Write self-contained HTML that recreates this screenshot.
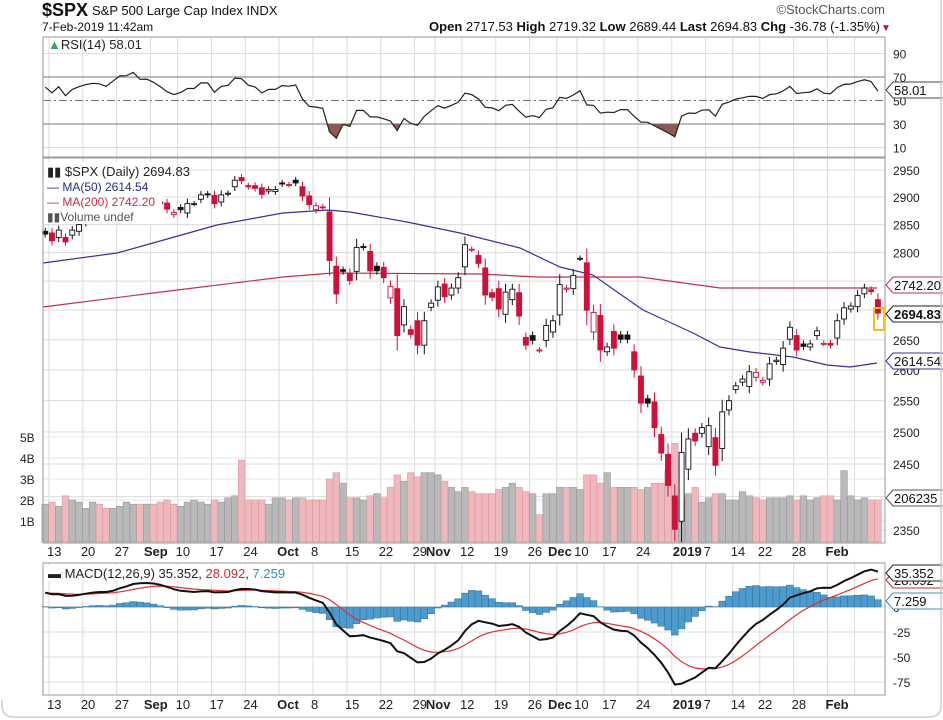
<!DOCTYPE html>
<html><head><meta charset="utf-8"><style>
html,body{margin:0;padding:0;background:#fff;}
svg{display:block;font-family:"Liberation Sans",sans-serif;}
</style></head><body>
<svg id="c" width="943" height="720" viewBox="0 0 943 720" xmlns="http://www.w3.org/2000/svg"></svg>
<script>
const S=document.getElementById('c');let h='';
const oc=[[2838,2833],[2835,2821],[2827,2840],[2827,2819],[2831,2840],[2838,2850],[2853,2858],[2861,2863],[2860,2862],[2860,2857],[2862,2875],[2884,2897],[2901,2898],[2900,2914],[2908,2901],[2898,2902],
[2897,2896],[2891,2888],[2889,2878],[2868,2872],[2881,2877],[2871,2888],[2888,2888],[2896,2904],[2906,2904],[2903,2888],[2891,2904],[2906,2907],[2919,2931],[2936,2930],[2921,2919],[2921,2916],[2917,2905],[2911,2914],[2910,2914],
[2926,2924],[2923,2923],[2931,2926],[2919,2902],[2902,2886],[2877,2884],[2882,2881],[2873,2786],[2776,2728],[2770,2767],[2764,2751],[2767,2809],[2811,2809],[2802,2768],[2776,2768],[2774,2756],[2721,2741],[2737,2657],[2675,2706],[2667,2659],[2682,2641],[2641,2682],[2705,2712],
[2717,2740],[2745,2723],[2726,2738],[2738,2756],[2775,2814],[2806,2806],[2795,2781],[2773,2726],[2730,2722],[2737,2702],[2693,2731],[2718,2736],[2730,2690],[2654,2641],[2657,2649],[2633,2633],[2649,2674],[2663,2682],[2692,2744],[2736,2738],[2737,2760],
[2790,2790],[2782,2700],[2663,2696],[2691,2633],[2630,2638],[2664,2636],[2658,2651],[2658,2651],[2630,2600],[2590,2546],[2553,2546],[2548,2507],[2496,2467],[2465,2417],[2401,2351],[2363,2468],[2442,2489],[2498,2486],[2498,2507],
[2477,2510],[2491,2448],[2474,2532],[2535,2550],[2568,2574],[2580,2585],[2573,2597],[2588,2596],[2580,2583],[2585,2610],[2614,2616],[2609,2636],[2651,2671],[2657,2633],[2643,2639],[2638,2643],[2657,2665],[2644,2644],[2644,2641],[2653,2682],[2685,2704],
[2702,2707],[2706,2725],[2728,2738],[2735,2732],[2718,2695]];
const vol=[1.8,1.9,1.7,2.2,2.0,1.9,1.6,1.9,1.8,1.6,1.6,1.7,1.9,1.8,1.8,1.8,
1.8,1.9,2.0,1.8,1.7,1.9,2.0,1.9,1.8,2.0,1.9,2.1,2.2,3.9,2.0,2.0,2.0,1.8,2.1,
2.1,2.0,2.1,2.1,2.0,2.0,2.0,3.0,3.3,2.8,2.1,2.1,2.0,2.2,2.3,2.1,2.6,3.2,2.9,3.3,3.1,3.3,3.3,
3.2,2.9,2.6,2.4,2.6,2.4,2.3,2.3,2.3,2.5,2.6,2.8,2.6,2.4,2.3,1.3,2.3,2.3,2.6,2.6,2.6,
2.5,3.2,3.2,2.8,3.3,2.6,2.6,2.6,2.6,2.5,2.6,2.8,2.8,3.4,4.7,2.0,2.3,2.6,1.9,
2.1,2.3,2.3,2.0,2.0,2.4,2.2,2.1,2.0,2.1,2.1,2.1,2.2,2.0,2.2,2.0,2.1,2.2,2.2,2.0,3.4,
2.2,2.0,2.1,2.0,2.0];
const N=oc.length,X0=45.2,DX=6.77,L=43,R=885;
const X=i=>X0+i*DX;
const PY=p=>170+1583*(Math.log(2950)-Math.log(p));
const RY=r=>124-(r-30)*1.175;
const MY=m=>607-m;
const VY=v=>542-v*21;
// frames / grids
const vlines=[1,6,11,16,20,25,30,35,40,45,50,55,58,62,67,72,76,79,83,88,93,98,102,106,111,116,120];
function vgrid(t,b){vlines.forEach(i=>{h+=`<line x1="${X(i)-3}" y1="${t}" x2="${X(i)-3}" y2="${b}" stroke="#dcdcdc"/>`;});}
function hline(y,c='#dcdcdc',extra=''){h+=`<line x1="${L}" y1="${y}" x2="${R}" y2="${y}" stroke="${c}" ${extra}/>`;}
// RSI panel
vgrid(37,157);
[90,10].forEach(v=>hline(RY(v)));
hline(RY(70),'#777');hline(RY(30),'#777');hline(RY(50),'#777','stroke-dasharray="8,3,2,3"');
[[90,'90'],[70,'70'],[50,'50'],[30,'30'],[10,'10']].forEach(a=>h+=`<text x="893" y="${RY(a[0])+5}" font-size="12" fill="#222">${a[1]}</text>`);
// compute RSI
let ag=7,al=4.5,rsi=[];
for(let i=0;i<N;i++){const d=i?oc[i][1]-oc[i-1][1]:2;ag=(ag*13+Math.max(d,0))/14;al=(al*13+Math.max(-d,0))/14;rsi.push(100-100/(1+ag/al));}
let rp=rsi.map((r,i)=>`${X(i).toFixed(1)},${RY(r).toFixed(1)}`).join(' ');
// fill below 30
h+=`<clipPath id="c30"><rect x="${L}" y="${RY(30)}" width="${R-L}" height="40"/></clipPath>`;
h+=`<polygon clip-path="url(#c30)" points="${X(0)},${RY(30)} ${rp} ${X(N-1)},${RY(30)}" fill="#8a5a55"/>`;
h+=`<polyline points="${rp}" fill="none" stroke="#222" stroke-width="1.2"/>`;
h+=`<rect x="${L}" y="37" width="${R-L}" height="120" fill="none" stroke="#999"/>`;
h+=`<text x="48" y="49" font-size="13" fill="#222"><tspan fill="#3a6">▲</tspan>RSI(14) 58.01</text>`;
// price panel grids
vgrid(158,543);
[2950,2900,2850,2800,2750,2700,2650,2600,2550,2500,2450,2400,2350].forEach(p=>{hline(PY(p));});
[2950,2900,2850,2800,2650,2600,2550,2500,2450,2350].forEach(p=>h+=`<text x="893" y="${PY(p)+5}" font-size="12" fill="#222">${p}</text>`);
[[5,'5B'],[4,'4B'],[3,'3B'],[2,'2B'],[1,'1B']].forEach(a=>{h+=`<line x1="${L}" y1="${VY(a[0])}" x2="${R}" y2="${VY(a[0])}" stroke="#e4e4e4"/><text x="20" y="${VY(a[0])+5}" font-size="12" fill="#222">${a[1]}</text>`;});
// volume
for(let i=0;i<N;i++){const dn=i&&oc[i][1]<oc[i-1][1];h+=`<rect x="${X(i)-3.3}" y="${VY(vol[i])}" width="6.6" height="${542-VY(vol[i])}" fill="${dn?'#efb8bc':'#b9b9b9'}" stroke="${dn?'#d89aa0':'#9a9a9a'}" stroke-width="0.6"/>`;}
// MAs
const ma50=[[43,263],[117,253],[153,243],[217,225],[283,213],[328,210],[350,212],[407,222],[460,233],[520,248],[560,267],[593,275],[643,310],[693,333],[720,347],[750,352],[793,357],[827,365],[850,367],[877,363]];
const ma200=[[43,307],[153,293],[283,277],[333,273],[480,274],[537,277],[640,277],[720,288],[877,288]];
h+=`<polyline points="${ma200.join(' ')}" fill="none" stroke="#c0304a" stroke-width="1.2"/>`;
h+=`<polyline points="${ma50.join(' ')}" fill="none" stroke="#33339a" stroke-width="1.2"/>`;
// candles
for(let i=0;i<N;i++){const [o,c]=oc[i];const dn=i&&c<oc[i-1][1];const col=dn?'#d0103a':'#111';
const r=Math.abs(o-c)*0.25+5;const hi=Math.max(o,c)+r,lo=Math.min(o,c)-r;const x=X(i);
h+=`<line x1="${x}" y1="${PY(hi)}" x2="${x}" y2="${PY(lo)}" stroke="${col}" stroke-width="1"/>`;
const t=PY(Math.max(o,c)),b=PY(Math.min(o,c));const hh=Math.max(b-t,1);
h+=`<rect x="${x-2.5}" y="${t}" width="5" height="${hh}" fill="${c>=o?'#fff':col}" stroke="${col}" stroke-width="0.9"/>`;}
// legend
h+=`<rect x="44" y="162" width="118" height="62" fill="#fff"/>`;
h+=`<text x="47" y="176" font-size="13" fill="#222">▮▮ $SPX (Daily) 2694.83</text>`;
h+=`<text x="47" y="191" font-size="12" fill="#2a2a8a">— MA(50) 2614.54</text>`;
h+=`<text x="47" y="206" font-size="12" fill="#c0304a">— MA(200) 2742.20</text>`;
h+=`<text x="47" y="221" font-size="12" fill="#555">▮▮Volume undef</text>`;
h+=`<rect x="${L}" y="158" width="${R-L}" height="385" fill="none" stroke="#999"/>`;
h+=`<rect x="874" y="308" width="10" height="22" fill="none" stroke="#f3c020" stroke-width="2"/>`;
function tag(y,t,c,bold){h+=`<path d="M${R+1},${y} l7,-8 h58 v16 h-58 z" fill="#fff" stroke="${c}"/><text x="${R+9}" y="${y+5}" font-size="13" fill="#111" ${bold?'font-weight="bold"':''}>${t}</text>`;}
tag(285,'2742.20','#c0304a');tag(314,'2694.83','#222',1);tag(361,'2614.54','#33339a');tag(498,'206235','#555');tag(90,'58.01','#444');
// x labels
const labs=[[1,'13'],[6,'20'],[11,'27'],[16,'Sep',1],[20,'10'],[25,'17'],[30,'24'],[35,'Oct',1],[40,'8'],[45,'15'],[50,'22'],[55,'29'],[58,'Nov',1],[62,'12'],[67,'19'],[72,'26'],[76,'Dec',1],[79,'10'],[83,'17'],[88,'24'],[93,'2019',1],[98,'7'],[102,'14'],[106,'22'],[111,'28'],[116,'Feb',1]];
function xl(y){labs.forEach(a=>{let x=X(a[0])-5;if(a[1]=='Dec')x=X(79)-32;if(a[1]=='Nov')x=X(58)-12;if(a[1]=='Sep')x=X(19)-30;if(a[1]=='2019')x=X(93)-2;if(a[1]=='10'&&a[0]==79)x=X(83)-33;h+=`<text x="${x}" y="${y}" font-size="13" fill="#222" ${a[2]?'font-weight="bold"':''}>${a[1]}</text>`;});}
xl(556);xl(709);
// MACD
vgrid(563,695);
[0,-25,-50,-75].forEach(v=>hline(MY(v)));
[[-25,'-25'],[-50,'-50'],[-75,'-75'],[0,'0']].forEach(a=>h+=`<text x="893" y="${MY(a[0])+5}" font-size="12" fill="#222">${a[1]}</text>`);
let e12=oc[0][1]-6,e26=oc[0][1]-21,sg=14,md=[],sl=[];
for(let i=0;i<N;i++){const c=oc[i][1];e12+=(c-e12)*2/13;e26+=(c-e26)*2/27;const m=e12-e26;sg+=(m-sg)*2/10;md.push(m);sl.push(sg);}
for(let i=0;i<N;i++){const v=md[i]-sl[i];const y0=MY(0),y1=MY(v);h+=`<rect x="${X(i)-3.4}" y="${Math.min(y0,y1)}" width="6.8" height="${Math.abs(y1-y0)}" fill="#4c9bcc" stroke="#2f6f98" stroke-width="0.5"/>`;}
h+=`<polyline points="${sl.map((v,i)=>X(i).toFixed(1)+','+MY(v).toFixed(1)).join(' ')}" fill="none" stroke="#e03030" stroke-width="1.2"/>`;
h+=`<polyline points="${md.map((v,i)=>X(i).toFixed(1)+','+MY(v).toFixed(1)).join(' ')}" fill="none" stroke="#111" stroke-width="2"/>`;
h+=`<rect x="${L}" y="563" width="${R-L}" height="132" fill="none" stroke="#999"/>`;
h+=`<rect x="46" y="565" width="250" height="16" fill="#fff"/><text x="48" y="578" font-size="13" fill="#222">▬ MACD(12,26,9) 35.352, <tspan fill="#c03030">28.092</tspan>, <tspan fill="#3a8ec0">7.259</tspan></text>`;
tag(580,'28.092','#c03030');tag(573,'35.352','#222');tag(601,'7.259','#3a8ec0');
// header
h+=`<text x="42" y="16" font-size="18" font-weight="bold" fill="#111">$SPX</text><text x="92" y="15" font-size="13" fill="#111">S&amp;P 500 Large Cap Index  INDX</text>`;
h+=`<text x="42" y="31" font-size="12" fill="#111">7-Feb-2019 11:42am</text>`;
h+=`<text x="880" y="31" font-size="13" fill="#111" text-anchor="end"><tspan font-weight="bold">Open</tspan> 2717.53 <tspan font-weight="bold">High</tspan> 2719.32 <tspan font-weight="bold">Low</tspan> 2689.44 <tspan font-weight="bold">Last</tspan> 2694.83 <tspan font-weight="bold">Chg</tspan> -36.78 (-1.35%)</text><text x="881" y="31" font-size="10" fill="#a02040">▼</text>`;
h+=`<text x="885" y="14" font-size="13" fill="#555" text-anchor="end">©StockCharts.com</text>`;
h+=`<path d="M2,700 v5 q0,12 12,12 h915 q12,0 12,-12 v-705" fill="none" stroke="#ccc" stroke-width="1.5"/>`;
S.innerHTML=h;
</script>
</body></html>
